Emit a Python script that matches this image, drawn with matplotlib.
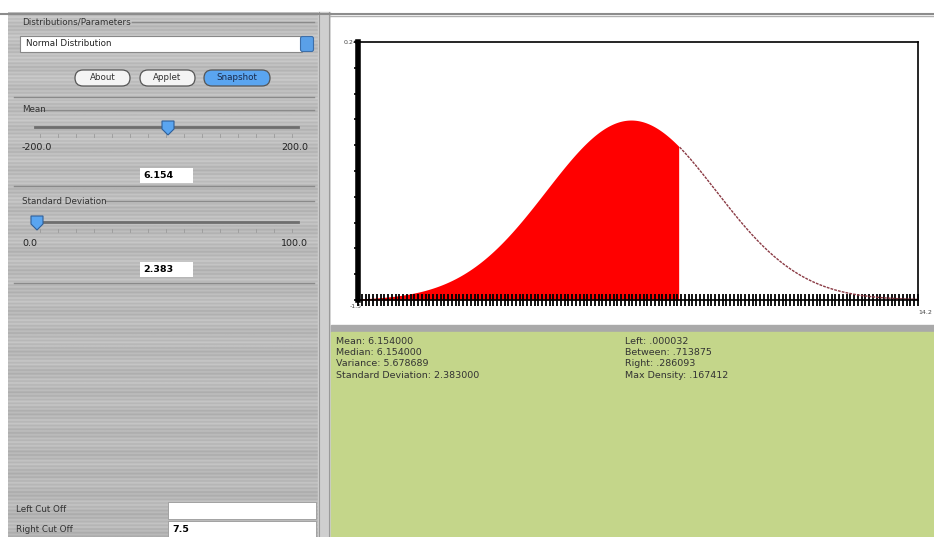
import numpy as np
import matplotlib.pyplot as plt
from matplotlib.patches import Rectangle, FancyBboxPatch, Polygon

plt.rcParams['font.family'] = 'DejaVu Sans'

# values shown in the applet
mean = 6.154
sd = 2.383
right_cut = 7.5
x_min, x_max = -1.5, 14.2
y_max = 0.24
stats_left = ['Mean: 6.154000', 'Median: 6.154000', 'Variance: 5.678689',
              'Standard Deviation: 2.383000']
stats_right = ['Left: .000032', 'Between: .713875', 'Right: .286093',
               'Max Density: .167412']
buttons = ['About', 'Applet', 'Snapshot']

W, H = 934, 537
fig = plt.figure(figsize=(W / 100, H / 100), dpi=100)
fig.patch.set_facecolor('white')

# background "gui" layer in pixel coords
bg = fig.add_axes([0, 0, 1, 1])
bg.set_xlim(0, W)
bg.set_ylim(H, 0)
bg.axis('off')

# brushed metal left panel
rows = np.arange(525)
shade = 0.75 + 0.03 * np.sin(rows * 1.7) + 0.02 * np.sin(rows * 0.31) - rows * 0.00006
tex = np.tile(shade[:, None], (1, 2))
bg.imshow(tex, cmap='gray', vmin=0, vmax=1, extent=(8, 318, 537, 12),
          aspect='auto', interpolation='bilinear', zorder=0)
bg.add_patch(Rectangle((318, 12), 12, 525, color='#cfcfcf', zorder=1))
bg.plot([319, 319], [12, 537], color='#9a9a9a', lw=0.8, zorder=2)
bg.plot([329, 329], [12, 537], color='#9a9a9a', lw=0.8, zorder=2)
bg.plot([0, W], [13.5, 13.5], color='#8c8c8c', lw=1.5, zorder=2)
bg.plot([330, W], [16, 16], color='#b0b0b0', lw=1, zorder=2)

# right side: white plot area, separator and green stats area
bg.add_patch(Rectangle((331, 17), W - 331, 308, color='white', zorder=1))
bg.add_patch(Rectangle((331, 325), W - 331, 7, color='#a9a9a9', zorder=1))
bg.add_patch(Rectangle((331, 332), W - 331, 205, color='#c4d68a', zorder=1))

txt = dict(fontsize=6.8, color='#333333', va='center', zorder=5)
for i, s in enumerate(stats_left):
    bg.text(336, 341 + i * 11.5, s, **txt)
for i, s in enumerate(stats_right):
    bg.text(625, 341 + i * 11.5, s, **txt)

# group boxes
def group(y, title, y_end):
    bg.text(22, y, title, fontsize=6.3, color='#333333', va='center', zorder=5)
    t_end = 22 + len(title) * 4.6
    bg.plot([t_end, 314], [y, y], color='#8a8a8a', lw=1, zorder=4)
    bg.plot([14, 314], [y_end, y_end], color='#8a8a8a', lw=1, zorder=4)

group(22, 'Distributions/Parameters', 97)
group(110, 'Mean', 186)
group(201, 'Standard Deviation', 283)

# combo box
bg.add_patch(Rectangle((20, 36), 282, 16, facecolor='white', edgecolor='#888888', lw=0.8, zorder=4))
bg.add_patch(FancyBboxPatch((301, 37), 12, 14, boxstyle='round,pad=0.5,rounding_size=2',
                            facecolor='#5aa0e8', edgecolor='#3d6ea8', lw=0.8, zorder=4))
bg.text(26, 44, 'Normal Distribution', fontsize=6.3, color='#222222', va='center', zorder=5)

# buttons
bx = [75, 140, 204]
bw = [55, 55, 66]
for x0, w, label in zip(bx, bw, buttons):
    blue = label == 'Snapshot'
    bg.add_patch(FancyBboxPatch((x0, 70), w, 16, boxstyle='round,pad=0,rounding_size=8',
                                facecolor='#5aa5f0' if blue else '#f4f4f4',
                                edgecolor='#555555', lw=0.9, zorder=4))
    bg.text(x0 + w / 2, 78, label, fontsize=6.3, ha='center', va='center',
            color='#1a2a4a' if blue else '#333333', zorder=5)

# sliders
def slider(y, knob_x, lo, hi, val_text, label_y, box_y):
    bg.plot([35, 298], [y, y], color='#6e6e6e', lw=2, zorder=4)
    for tx in np.linspace(40, 292, 15):
        bg.plot([tx, tx], [y + 7, y + 10], color='#9a9a9a', lw=0.6, zorder=4)
    bg.add_patch(Polygon([[knob_x - 6, y - 6], [knob_x + 6, y - 6], [knob_x + 6, y + 2],
                          [knob_x, y + 8], [knob_x - 6, y + 2]],
                         closed=True, facecolor='#5aa5f0', edgecolor='#2f5f99', lw=0.8, zorder=5))
    bg.text(22, label_y, lo, fontsize=6.8, va='center', color='#222222', zorder=5)
    bg.text(308, label_y, hi, fontsize=6.8, va='center', ha='right', color='#222222', zorder=5)
    bg.add_patch(Rectangle((140, box_y), 53, 15, facecolor='white', edgecolor='none', zorder=4))
    bg.text(143, box_y + 7.5, val_text, fontsize=6.8, va='center', color='black',
            fontweight='bold', zorder=5)

slider(127, 168, '-200.0', '200.0', f'{mean:.3f}', 148, 168)
slider(222, 37, '0.0', '100.0', f'{sd:.3f}', 243, 262)

# cut off fields
bg.text(16, 510, 'Left Cut Off', fontsize=6.3, va='center', color='#333333', zorder=5)
bg.text(16, 529, 'Right Cut Off', fontsize=6.3, va='center', color='#333333', zorder=5)
bg.add_patch(Rectangle((168, 502), 148, 17, facecolor='white', edgecolor='#999999', lw=0.6, zorder=4))
bg.add_patch(Rectangle((168, 521), 148, 17, facecolor='white', edgecolor='#999999', lw=0.6, zorder=4))
bg.text(172, 529, str(right_cut), fontsize=6.8, va='center', color='black', fontweight='bold', zorder=5)

# density plot
ax = fig.add_axes([358 / W, 1 - 300 / H, 560 / W, 258 / H])
ax.set_facecolor('white')
x = np.linspace(x_min, x_max, 600)
pdf = np.exp(-0.5 * ((x - mean) / sd) ** 2) / (sd * np.sqrt(2 * np.pi))
mask = x <= right_cut
ax.fill_between(x[mask], 0, pdf[mask], color='#ff0000', lw=0)
ax.plot(x[~mask], pdf[~mask], color='#8a3a44', lw=1.0, ls=(0, (2, 0.8)))
ax.set_xlim(x_min, x_max)
ax.set_ylim(0, y_max)

for side in ['top', 'right', 'bottom']:
    ax.spines[side].set_linewidth(1.2)
ax.spines['left'].set_linewidth(4)
ax.set_xticks(np.linspace(x_min, x_max, 150))
ax.set_xticklabels([])
ax.set_yticks(np.linspace(0, y_max, 11))
ax.set_yticklabels([])
ax.tick_params(axis='x', direction='inout', length=8, width=1.3, color='black')
ax.tick_params(axis='y', direction='out', length=3, width=1.2)

bg.text(344, 43, f'{y_max:.3f}', fontsize=4.5, color='#444444', va='center', zorder=6)
bg.text(350, 307, f'{x_min}', fontsize=4.5, color='#444444', va='center', zorder=6)
bg.text(918, 312, f'{x_max}', fontsize=4.5, color='#444444', va='center', zorder=6)

fig.savefig('out.png', dpi=100)
